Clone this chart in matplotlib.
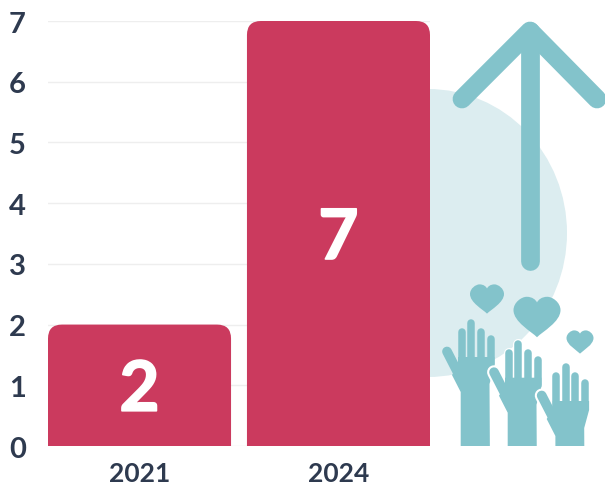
import matplotlib
matplotlib.use('Agg')
import matplotlib.pyplot as plt
from matplotlib.patches import Ellipse, PathPatch, Rectangle
from matplotlib.path import Path
import matplotlib.patheffects as pe

years = ['2021', '2024']
values = [2, 7]
y_ticks = [0, 1, 2, 3, 4, 5, 6, 7]

RED = '#cb3a5e'
TEAL = '#83c3cb'
BLOB = '#dcedf0'
DARK = '#2e3a4f'
W, H = 605, 489

plt.rcParams['font.family'] = ['Lato', 'DejaVu Sans']

fig = plt.figure(figsize=(W / 100, H / 100), dpi=100)

# decoration, in pixel coordinates, behind the chart
deco = fig.add_axes([0, 0, 1, 1], zorder=0)
deco.set_xlim(0, W)
deco.set_ylim(H, 0)
deco.axis('off')
deco.add_patch(Ellipse((428, 234), 278, 288, color=BLOB, lw=0))

# arrow
deco.plot([530, 530], [262, 32], color=TEAL, lw=13.5, solid_capstyle='round')
deco.plot([462, 530, 597], [100, 32, 100], color=TEAL, lw=13.5,
          solid_capstyle='round', solid_joinstyle='round')


def heart(cx, cy, w):
    h = w * 0.86
    verts = [(0, 0.5), (-0.12, 0.36), (-0.5, 0.12), (-0.5, -0.17),
             (-0.5, -0.36), (-0.33, -0.5), (-0.22, -0.5),
             (-0.1, -0.5), (-0.03, -0.43), (0, -0.36),
             (0.03, -0.43), (0.1, -0.5), (0.22, -0.5),
             (0.33, -0.5), (0.5, -0.36), (0.5, -0.17),
             (0.5, 0.12), (0.12, 0.36), (0, 0.5)]
    codes = [Path.MOVETO] + [Path.CURVE4] * 18
    pts = [(cx + x * w, cy + y * h) for x, y in verts]
    deco.add_patch(PathPatch(Path(pts, codes), color=TEAL, lw=0))


heart(487, 300, 34)
heart(537, 318, 47)
heart(580, 343, 27)

# hand outline measured from the leftmost hand, offsets for the other two
finger_x = [461.7, 471.3, 480.7, 490.7]
finger_top = [333, 324, 333, 340]
hand_shape = [(458, 358), (494.4, 358), (494.4, 367), (489.5, 385), (490, 470), (460.7, 470),
              (460.7, 393), (452, 376), (458, 366)]
thumb = [(447, 352.5), (457, 372)]
offsets = [(0, 0), (47, 20.7), (94.7, 44)]
clip = Rectangle((0, 0), W, 447, transform=deco.transData)

for i, (dx, dy) in enumerate(offsets):
    xs = [x + dx for x, y in hand_shape]
    ys = [y + dy for x, y in hand_shape]
    fingers = [([fx + dx] * 2, [ft + dy, 365 + dy]) for fx, ft in zip(finger_x, finger_top)]
    tx = [x + dx for x, y in thumb]
    ty = [y + dy for x, y in thumb]
    z = 2 + i
    # white halo first, only where a hand sits over the previous one
    if i > 0:
        deco.fill(xs, ys, color='white', lw=3.5, ec='white', zorder=z)[0].set_clip_path(clip)
        deco.plot(tx, ty, color='white', lw=10, solid_capstyle='round', zorder=z)
        for fx, fy in fingers:
            deco.plot(fx, fy, color='white', lw=8, solid_capstyle='round', zorder=z)
    deco.fill(xs, ys, color=TEAL, lw=0, zorder=z + 0.5)[0].set_clip_path(clip)
    deco.plot(tx, ty, color=TEAL, lw=7, solid_capstyle='round', zorder=z + 0.5)
    for fx, fy in fingers:
        deco.plot(fx, fy, color=TEAL, lw=5.4, solid_capstyle='round', zorder=z + 0.5)

# the chart
ax = fig.add_axes([48 / W, 1 - 447 / H, (430 - 48) / W, (447 - 22) / H], zorder=1)
ax.patch.set_alpha(0)
ax.set_xlim(-0.46, 1.46)
ax.set_ylim(0, 7)
ax.set_yticks(y_ticks)
ax.set_xticks(range(len(years)))
ax.set_xticklabels(years)
ax.grid(axis='y', color='#eeeeee', lw=1)
ax.set_axisbelow(True)
for s in ax.spines.values():
    s.set_visible(False)
ax.tick_params(length=0)
ax.tick_params(axis='y', pad=16, labelsize=21, labelcolor=DARK)
ax.tick_params(axis='x', pad=11, labelsize=19, labelcolor=DARK)
for t in ax.get_xticklabels() + ax.get_yticklabels():
    t.set_fontweight('bold')

bar_w = 0.92
rx = 14 / 199
ry = 14 / (425 / 7)
for i, v in enumerate(values):
    l, r = i - bar_w / 2, i + bar_w / 2
    verts = [(l, 0), (l, v - ry), (l, v), (l + rx, v), (r - rx, v), (r, v), (r, v - ry), (r, 0), (l, 0)]
    codes = [Path.MOVETO, Path.LINETO, Path.CURVE3, Path.CURVE3, Path.LINETO,
             Path.CURVE3, Path.CURVE3, Path.LINETO, Path.CLOSEPOLY]
    ax.add_patch(PathPatch(Path(verts, codes), color=RED, lw=0, zorder=3))
    t = ax.text(i, v / 2, str(v), color='white', fontsize=50, fontweight='bold',
                ha='center', va='center_baseline', zorder=4)
    t.set_path_effects([pe.withStroke(linewidth=1.2, foreground='white')])

fig.savefig('out.png', dpi=100)
